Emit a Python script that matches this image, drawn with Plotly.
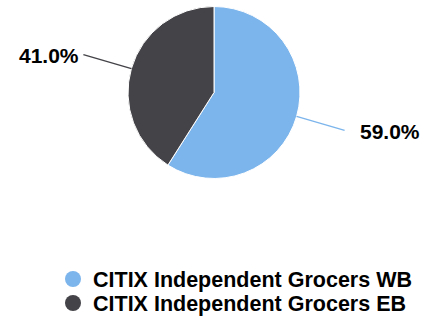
import math
import plotly.graph_objects as go

labels = ["CITIX Independent Grocers WB", "CITIX Independent Grocers EB"]
values = [59.0, 41.0]
colors = ["#7cb5ec", "#434348"]
pct_labels = ["59.0%", "41.0%"]

W, H = 423, 318
cx, cy, r = 214, 92.5, 86

fig = go.Figure()
fig.add_trace(go.Pie(
    labels=labels, values=values, sort=False, direction="clockwise", rotation=0,
    marker=dict(colors=colors, line=dict(color="#ffffff", width=1)),
    textinfo="none", hoverinfo="label+percent", showlegend=False,
    domain=dict(x=[(cx - r) / W, (cx + r) / W], y=[1 - (cy + r) / H, 1 - (cy - r) / H]),
))

def px(x):
    return x / W

def py(y):
    return 1 - y / H

total = sum(values)
cum = 0
shapes = []
annotations = []
for v, c, t in zip(values, colors, pct_labels):
    mid = (cum + v / 2) / total * 2 * math.pi
    cum += v
    sx, sy = cx + r * math.sin(mid), cy - r * math.cos(mid)
    ex, ey = cx + (r + 50) * math.sin(mid), cy - (r + 50) * math.cos(mid)
    shapes.append(dict(type="line", xref="paper", yref="paper",
                       x0=px(sx), y0=py(sy), x1=px(ex), y1=py(ey),
                       line=dict(color=c, width=1.3)))
    right = math.sin(mid) > 0
    annotations.append(dict(xref="paper", yref="paper", x=px(ex + (13 if right else -2)), y=py(ey + 1),
                            xanchor="left" if right else "right", yanchor="middle",
                            text=t, showarrow=False,
                            font=dict(family="Liberation Sans, Arial", size=21, color="#000000", weight="bold")))

legend_y = [279, 303]
for i, (lab, c) in enumerate(zip(labels, colors)):
    fig.add_trace(go.Scatter(x=[None], y=[None], mode="markers", name=lab,
                             marker=dict(color=c, size=17, symbol="circle"),
                             legend="legend" if i == 0 else "legend2"))

leg_common = dict(x=53 / W, xanchor="left", yanchor="middle",
                  bgcolor="rgba(0,0,0,0)", borderwidth=0,
                  font=dict(family="Liberation Sans, Arial", size=21.5, color="#000000", weight="bold"))
fig.update_layout(
    width=W, height=H, margin=dict(l=0, r=0, t=0, b=0, autoexpand=False),
    paper_bgcolor="#ffffff", plot_bgcolor="#ffffff",
    xaxis=dict(visible=False), yaxis=dict(visible=False),
    shapes=shapes, annotations=annotations,
    legend=dict(y=py(legend_y[0]), **leg_common),
    legend2=dict(y=py(legend_y[1]), **leg_common),
)
fig.write_html("out.html", config={"displayModeBar": False},
               post_script="document.body.style.margin='0';document.body.style.overflow='hidden';")
